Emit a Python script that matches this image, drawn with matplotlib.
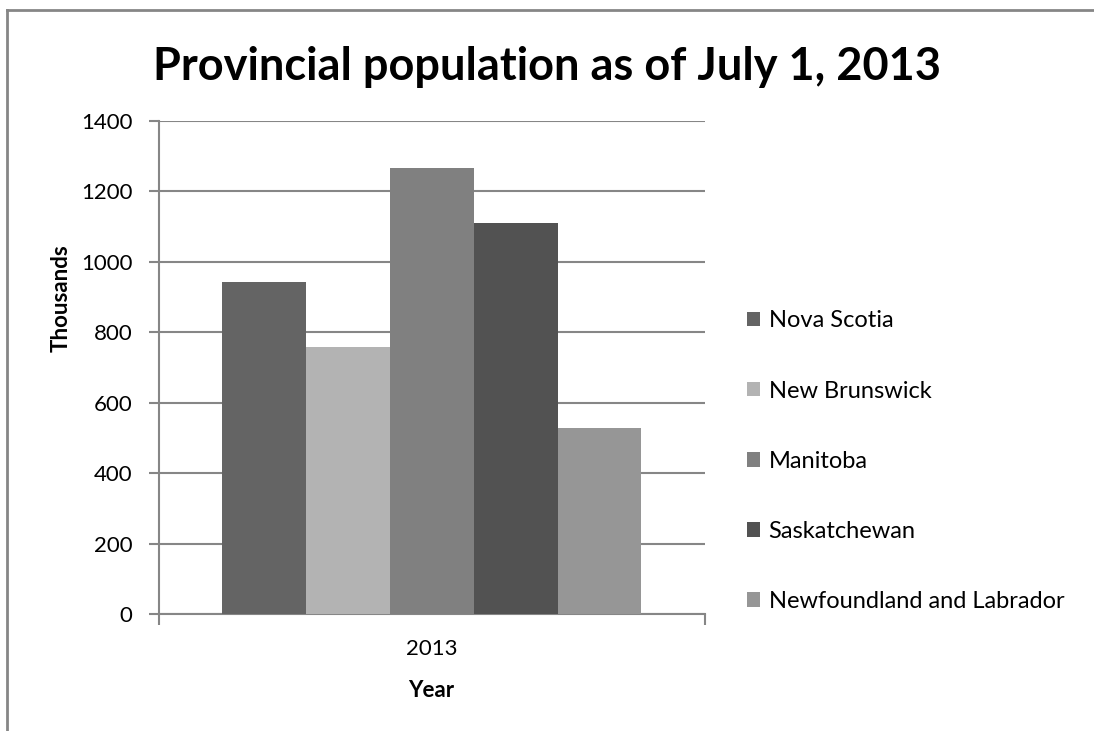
import matplotlib.pyplot as plt
from matplotlib.lines import Line2D
import numpy as np

plt.rcParams['font.family'] = ['Lato', 'DejaVu Sans']

# Population in thousands, July 1 2013
provinces = ["Nova Scotia", "New Brunswick", "Manitoba", "Saskatchewan",
             "Newfoundland and Labrador"]
population = [943, 757, 1266, 1109, 527]
colors = ["#646464", "#b3b3b3", "#808080", "#525252", "#969696"]
year = "2013"

grid_gray = "#868686"

fig = plt.figure(figsize=(10.94, 7.31), dpi=100)
ax = fig.add_axes([0.1453, 0.160, 0.4991, 0.6745])

width = 0.1535
offsets = (np.arange(len(provinces)) - (len(provinces) - 1) / 2) * width
for off, val, col, name in zip(offsets, population, colors, provinces):
    ax.bar(off, val, width=width, color=col, label=name, zorder=3)

ax.set_xlim(-0.5, 0.5)
ax.set_ylim(0, 1400)
ax.set_yticks(np.arange(0, 1401, 200))
ax.yaxis.grid(True, color=grid_gray, linewidth=1.5, zorder=0)
ax.set_axisbelow(True)

for side in ["top", "right"]:
    ax.spines[side].set_visible(False)
for side in ["left", "bottom"]:
    ax.spines[side].set_color(grid_gray)
    ax.spines[side].set_linewidth(1.5)

ax.tick_params(axis="y", length=7, width=1.5, color=grid_gray,
               labelsize=16, pad=12, labelcolor="black")
ax.set_xticks([-0.5, 0.5])
ax.set_xticklabels(["", ""])
ax.tick_params(axis="x", length=8, width=1.5, color=grid_gray)
ax.text(0.5, -0.07, year, transform=ax.transAxes, ha="center", va="center",
        fontsize=16)

fig.text(0.5, 0.908, "Provincial population as of July 1, 2013",
         ha="center", va="center", fontsize=32.5, fontweight="bold")
fig.text(0.394, 0.056, "Year", ha="center", va="center", fontsize=16,
         fontweight="bold")
fig.text(0.056, 0.592, "Thousands", ha="center", va="center", fontsize=16,
         fontweight="bold", rotation=90)

ax.legend(loc="center left", bbox_to_anchor=(1.06, 0.31), frameon=False,
          fontsize=17, handlelength=0.56, handleheight=0.56,
          handletextpad=0.35, labelspacing=2.08, borderaxespad=0)

# outer chart frame (left and top edges)
fig.add_artist(Line2D([0.0064, 0.0064], [0, 0.987], transform=fig.transFigure,
                      color=grid_gray, linewidth=2))
fig.add_artist(Line2D([0.0064, 1.0], [0.987, 0.987], transform=fig.transFigure,
                      color=grid_gray, linewidth=2))

fig.savefig("out.png", dpi=100)
